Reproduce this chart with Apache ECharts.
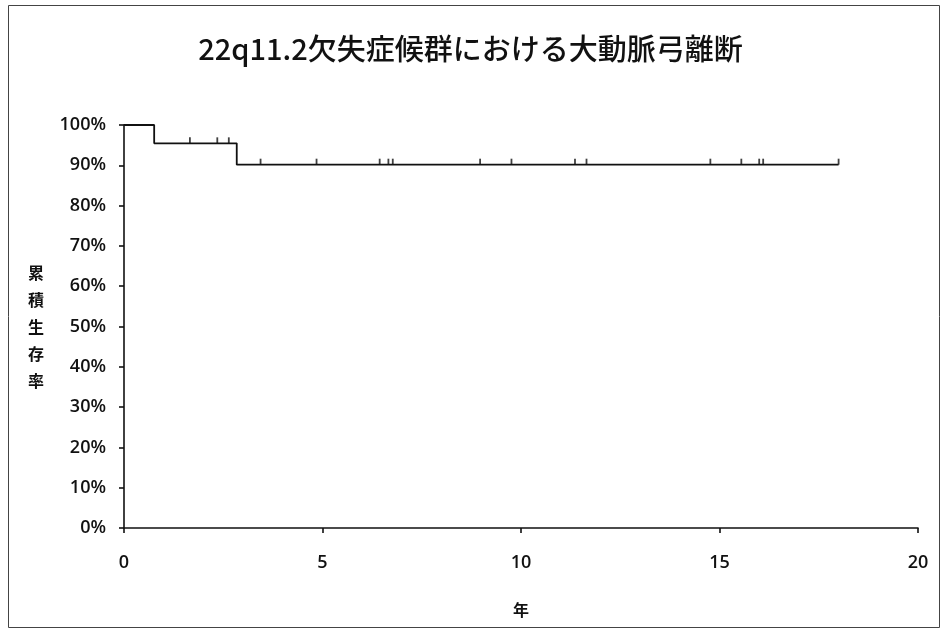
<!DOCTYPE html>
<html>
<head>
<meta charset="utf-8">
<script src="https://cdn.jsdelivr.net/npm/echarts@6/dist/echarts.min.js"></script>
<style>
  html, body { margin: 0; padding: 0; background: #fff; }
  #chart { width: 941px; height: 633px; }
</style>
</head>
<body>
<div id="chart"></div>
<script>
// Kaplan–Meier survival curve: step points (time in years, cumulative survival)
const stepTimes    = [0, 0.76, 2.84, 18.0];
const stepSurvival = [1.0, 0.9545, 0.9015, 0.9015];

// Censored observations (years)
const censorTimes = [1.66, 2.35, 2.64, 3.44, 4.85, 6.44, 6.66, 6.77, 8.97, 9.76,
                     11.36, 11.65, 14.77, 15.55, 16.0, 16.1, 18.0];

// Axis tick labels
const xTicks = [0, 5, 10, 15, 20];
const yTicks = ['0%', '10%', '20%', '30%', '40%', '50%', '60%', '70%', '80%', '90%', '100%'];

const titleText = '22q11.2欠失症候群における大動脈弓離断';
const xName = '年';
const yName = '累積生存率';

// survival level in effect at time t (step function from the arrays above)
function survivalAt(t) {
  let s = stepSurvival[0];
  for (let i = 0; i < stepTimes.length; i++) {
    if (stepTimes[i] <= t) s = stepSurvival[i];
  }
  return s;
}

const curveData = stepTimes.map((t, i) => [t, stepSurvival[i]]);
const censorData = censorTimes.map(t => [t, survivalAt(t)]);

const labelFont = { fontFamily: 'Open Sans', fontSize: 18, fontWeight: 600, color: '#111' };

const chart = echarts.init(document.getElementById('chart'), null, { renderer: 'canvas' });
chart.setOption({
  backgroundColor: '#fff',
  animation: false,
  title: {
    text: titleText,
    left: 'center',
    top: 29,
    textStyle: { fontFamily: 'Noto Sans CJK JP', fontSize: 29, fontWeight: 500, color: '#111' }
  },
  graphic: [{
    type: 'rect',
    shape: { x: 8.5, y: 5.5, width: 931, height: 622 },
    style: { fill: 'none', stroke: '#444', lineWidth: 1 },
    silent: true
  }],
  grid: { left: 124, right: 23, top: 125, bottom: 105, containLabel: false },
  xAxis: {
    type: 'value',
    min: 0, max: 20, interval: 5,
    name: xName,
    nameLocation: 'middle',
    nameGap: 74,
    nameTextStyle: { fontFamily: 'Noto Sans CJK JP', fontSize: 16, fontWeight: 'bold', color: '#111' },
    axisLine: { onZero: false, lineStyle: { color: '#111', width: 1.6 } },
    axisTick: { show: true, inside: false, length: 5, lineStyle: { color: '#111', width: 1.6 } },
    axisLabel: Object.assign({ margin: 26, formatter: v => xTicks.includes(v) ? String(v) : '' }, labelFont),
    splitLine: { show: false }
  },
  yAxis: {
    type: 'value',
    min: 0, max: 1, interval: 0.1,
    name: yName.split('').join('\n'),
    nameLocation: 'middle',
    nameRotate: 0,
    nameGap: 80,
    nameTextStyle: { fontFamily: 'Noto Sans CJK JP', fontSize: 16, fontWeight: 'bold', color: '#111', lineHeight: 27 },
    axisLine: { show: true, lineStyle: { color: '#111', width: 1.6 } },
    axisTick: { show: true, inside: false, length: 5, lineStyle: { color: '#111', width: 1.6 } },
    axisLabel: Object.assign({ margin: 18, formatter: v => yTicks[Math.round(v * 10)] }, labelFont),
    splitLine: { show: false }
  },
  series: [
    {
      type: 'line',
      step: 'end',
      data: curveData,
      symbol: 'none',
      lineStyle: { color: '#111', width: 1.8 },
      silent: true
    },
    {
      type: 'scatter',
      data: censorData,
      symbol: 'rect',
      symbolSize: [1.8, 6],
      symbolOffset: [0, -3],
      itemStyle: { color: '#111' },
      silent: true
    }
  ]
});
</script>
</body>
</html>
